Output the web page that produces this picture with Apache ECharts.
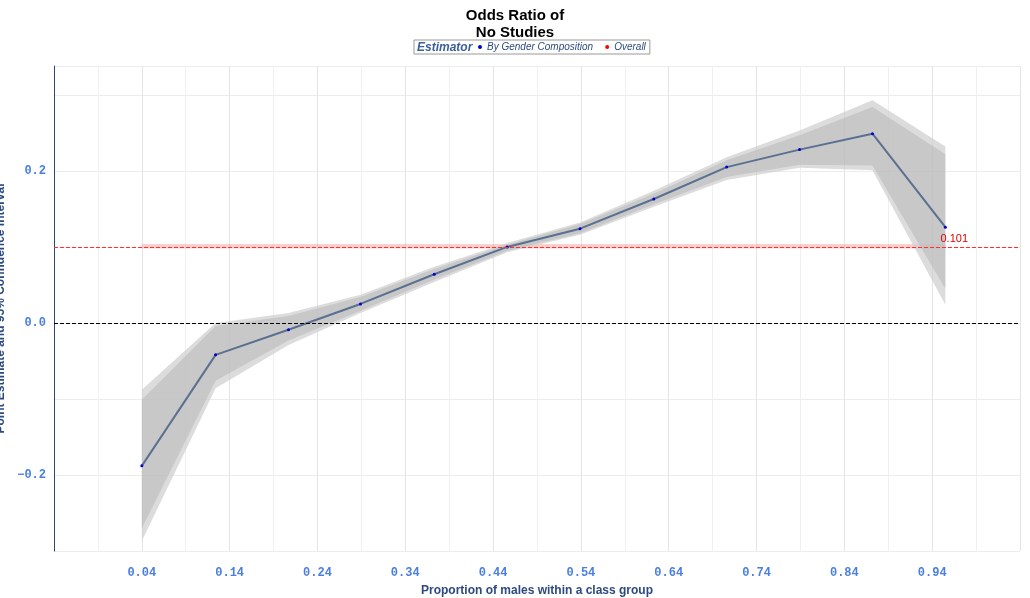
<!DOCTYPE html>
<html><head><meta charset="utf-8">
<script src="https://cdn.jsdelivr.net/npm/echarts@6/dist/echarts.min.js"></script>
<style>body{margin:0;background:#fff}#c{width:1030px;height:598px}</style>
</head><body><div id="c"></div>
<script>
var xs = [0.04,0.124,0.207,0.289,0.373,0.456,0.539,0.623,0.706,0.789,0.872,0.955];
var est = [-0.188,-0.042,-0.009,0.025,0.064,0.100,0.124,0.163,0.205,0.228,0.249,0.126];
var outerLo = [-0.287,-0.086,-0.029,0.013,0.054,0.093,0.116,0.153,0.188,0.204,0.201,0.024];
var outerHi = [-0.088,0.000,0.013,0.037,0.074,0.105,0.132,0.174,0.218,0.253,0.293,0.232];
var innerLo = [-0.270,-0.076,-0.023,0.016,0.057,0.095,0.118,0.156,0.192,0.208,0.207,0.045];
var innerHi = [-0.101,-0.004,0.009,0.034,0.071,0.103,0.130,0.170,0.214,0.247,0.284,0.222];
var overall = 0.101;

function pairs(a){ return xs.map(function(x,i){ return [x,a[i]]; }); }
function band(lo,hi,color){
  return {type:'custom',silent:true,data:[0],z:1,
    renderItem:function(params,api){
      var pts=[],i;
      for(i=0;i<xs.length;i++) pts.push(api.coord([xs[i],hi[i]]));
      for(i=xs.length-1;i>=0;i--) pts.push(api.coord([xs[i],lo[i]]));
      return {type:'polygon',shape:{points:pts},style:{fill:color}};
    }};
}
var lbl = {color:'#4a7fe0',fontFamily:'Liberation Mono',fontWeight:'bold',fontSize:12};
var chart = echarts.init(document.getElementById('c'));
chart.setOption({
  animation:false,
  title:{text:'Odds Ratio of\nNo Studies',left:'center',top:2,textStyle:{fontSize:15,fontWeight:'bold',color:'#000',fontFamily:'Liberation Sans',lineHeight:17}},
  legend:{top:40,left:414,data:[{name:'By Gender Composition',itemStyle:{color:'#0000cc'}},{name:'Overall',itemStyle:{color:'#ff0000'}}],
    icon:'circle',itemWidth:4,itemHeight:4,itemGap:12,borderColor:'#999',borderWidth:1,padding:[2,4,2,64],
    textStyle:{fontStyle:'italic',fontSize:10,color:'#2c4a80',fontFamily:'Liberation Sans'}},
  graphic:[{type:'text',left:417,top:42,z:100,style:{text:'Estimator',font:'italic bold 12px Liberation Sans',fill:'#3a5f9a'}}],
  grid:{left:54,right:10,top:66,bottom:47,outerBoundsMode:'none',containLabel:false},
  xAxis:{type:'value',min:-0.06,max:1.04,interval:0.1,
    name:'Proportion of males within a class group',nameLocation:'middle',nameGap:34,
    nameTextStyle:{fontWeight:'bold',fontSize:12,color:'#2c4a80',fontFamily:'Liberation Sans'},
    axisLine:{show:false},axisTick:{show:false},
    axisLabel:Object.assign({margin:16,formatter:function(v){return (v<0||v>1)?'':v.toFixed(2);}},lbl),
    splitLine:{lineStyle:{color:'#e4e4e4'}},minorTick:{show:false,splitNumber:2},minorSplitLine:{show:true,lineStyle:{color:'#f0f0f0'}}},
  yAxis:{type:'value',min:-0.3,max:0.338,interval:0.1,
    name:'Point Estimate and 95% Confidence Interval',nameLocation:'middle',nameGap:42,
    nameTextStyle:{fontWeight:'bold',fontSize:12,color:'#2c4a80',fontFamily:'Liberation Sans'},
    axisLine:{show:true,onZero:false,lineStyle:{color:'#2c4a70'}},axisTick:{show:false},
    axisLabel:Object.assign({formatter:function(v){var r=Math.round(v*10);return (r%2===0 && Math.abs(r)<=2)?(r/10).toFixed(1).replace('-','\u2212'):'';}},lbl),
    splitLine:{lineStyle:{color:'#ececec'}}},
  series:[
    band(outerLo,outerHi,'rgba(205,205,205,0.7)'),
    band(innerLo,innerHi,'rgba(180,180,180,0.5)'),
    {name:'By Gender Composition',type:'line',z:3,data:pairs(est),symbol:'circle',symbolSize:3,
      itemStyle:{color:'#0000cc'},lineStyle:{color:'#5a7090',width:2},
      markLine:{silent:true,symbol:'none',label:{show:false},data:[
        {yAxis:0,lineStyle:{color:'#000',type:'dashed',width:1}}]}},
    {name:'Overall',type:'line',z:4,data:[[0.04,overall],[0.955,overall]],symbol:'none',
      itemStyle:{color:'#ff0000'},lineStyle:{opacity:0},
      markArea:{silent:true,itemStyle:{color:'rgba(255,120,120,0.35)'},data:[[{coord:[0.04,overall-0.003]},{coord:[0.955,overall+0.003]}]]},
      markLine:{silent:true,symbol:'none',data:[{yAxis:overall,lineStyle:{color:'#ff3030',type:'dashed',width:1},
        label:{show:true,position:'insideEndTop',formatter:'0.101',color:'#e00000',fontSize:11,offset:[-50,0],distance:2}}]}}
  ]
});
</script></body></html>
